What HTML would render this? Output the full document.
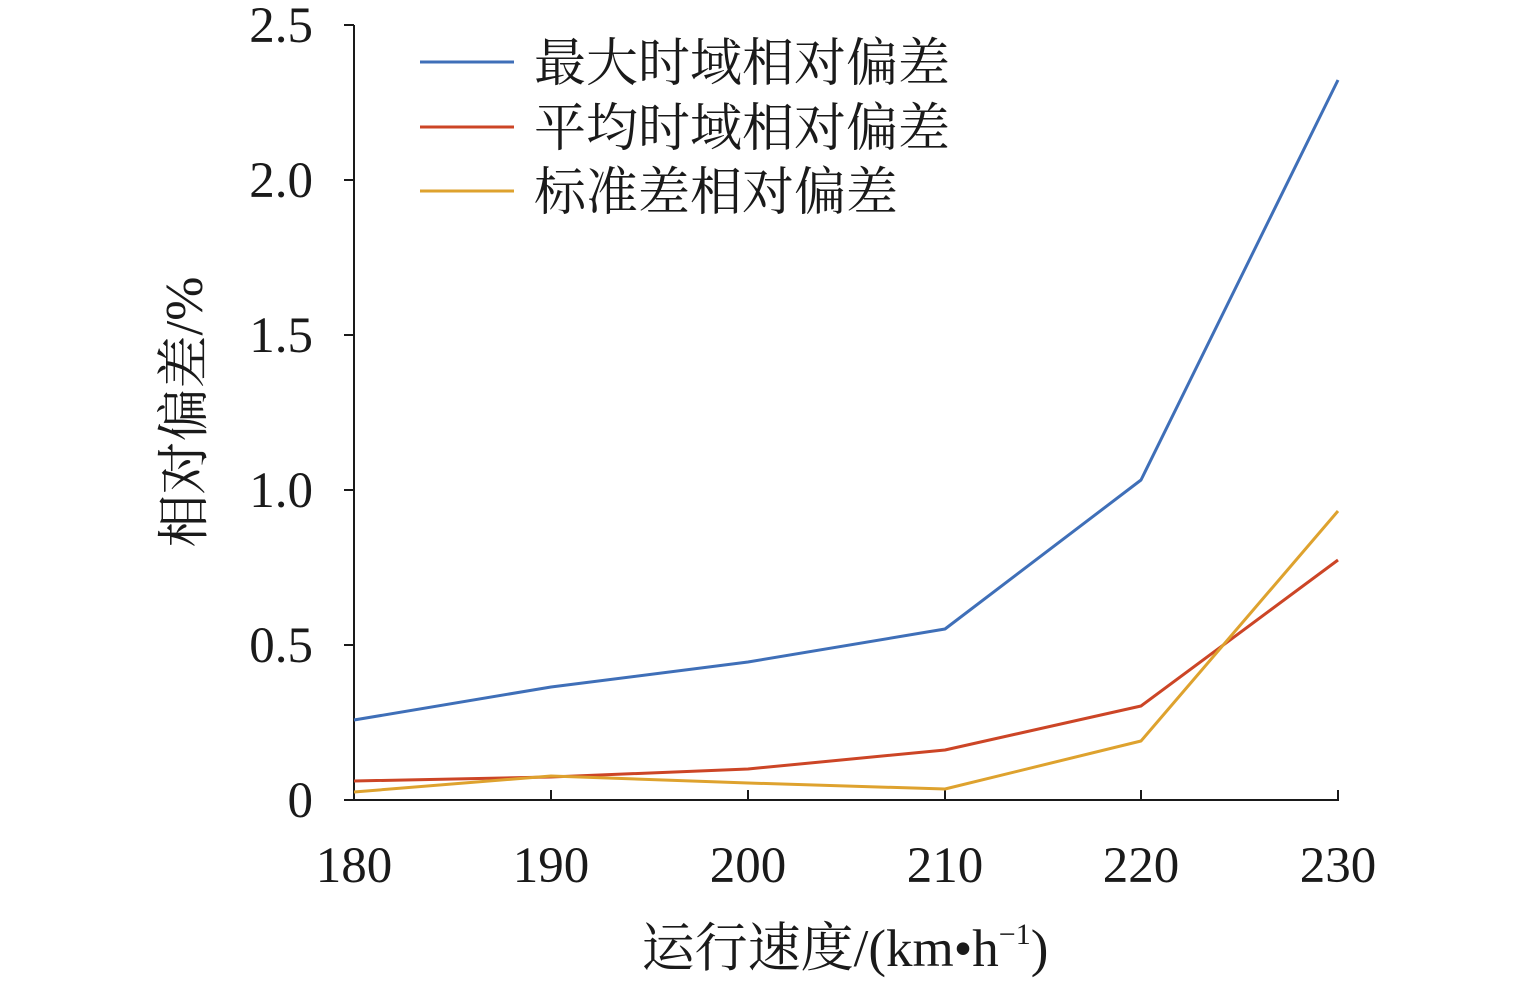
<!DOCTYPE html>
<html><head><meta charset="utf-8"><style>
html,body{margin:0;padding:0;background:#fff;}
svg{display:block;}
text{font-family:"Liberation Serif","Noto Serif CJK SC",serif;fill:#1a1a1a;}
</style></head><body>
<svg width="1535" height="984" viewBox="0 0 1535 984">
<g stroke="#1a1a1a" stroke-width="2" fill="none">
<line x1="354" y1="25" x2="354" y2="801"/>
<line x1="353" y1="800" x2="1339" y2="800"/>
<line x1="344" y1="25" x2="354" y2="25"/>
<line x1="344" y1="180" x2="354" y2="180"/>
<line x1="344" y1="335" x2="354" y2="335"/>
<line x1="344" y1="490" x2="354" y2="490"/>
<line x1="344" y1="645" x2="354" y2="645"/>
<line x1="344" y1="800" x2="354" y2="800"/>
<line x1="551" y1="790" x2="551" y2="800"/>
<line x1="748" y1="790" x2="748" y2="800"/>
<line x1="945" y1="790" x2="945" y2="800"/>
<line x1="1141" y1="790" x2="1141" y2="800"/>
<line x1="1338" y1="790" x2="1338" y2="800"/>
</g>
<g font-size="51" text-anchor="end">
<text x="313" y="42">2.5</text>
<text x="313" y="197">2.0</text>
<text x="313" y="352">1.5</text>
<text x="313" y="507">1.0</text>
<text x="313" y="662">0.5</text>
<text x="313" y="817">0</text>
</g>
<g font-size="51" text-anchor="middle">
<text x="354" y="882">180</text>
<text x="551" y="882">190</text>
<text x="748" y="882">200</text>
<text x="945" y="882">210</text>
<text x="1141" y="882">220</text>
<text x="1338" y="882">230</text>
</g>
<text x="845" y="966" font-size="53" text-anchor="middle">运行速度/(km•h<tspan font-size="30" dy="-22">−1</tspan><tspan dy="22">)</tspan></text>
<text transform="translate(202,412) rotate(-90)" font-size="53" text-anchor="middle">相对偏差/%</text>
<g fill="none" stroke-width="3" stroke-linejoin="round">
<polyline stroke="#3f6fb8" points="354,720 551,687 748,662 945,629 1141,480 1338,80"/>
<polyline stroke="#cc4526" points="354,781 551,777 748,769 945,750 1141,706 1338,560"/>
<polyline stroke="#dea22e" points="354,792 551,776 748,783 945,789 1141,741 1338,511"/>
<line stroke="#3f6fb8" x1="420" y1="62" x2="514" y2="62"/>
<line stroke="#cc4526" x1="420" y1="127" x2="514" y2="127"/>
<line stroke="#dea22e" x1="420" y1="191" x2="514" y2="191"/>
</g>
<g font-size="52">
<text x="534" y="81">最大时域相对偏差</text>
<text x="534" y="146">平均时域相对偏差</text>
<text x="534" y="210">标准差相对偏差</text>
</g>
</svg>
</body></html>
